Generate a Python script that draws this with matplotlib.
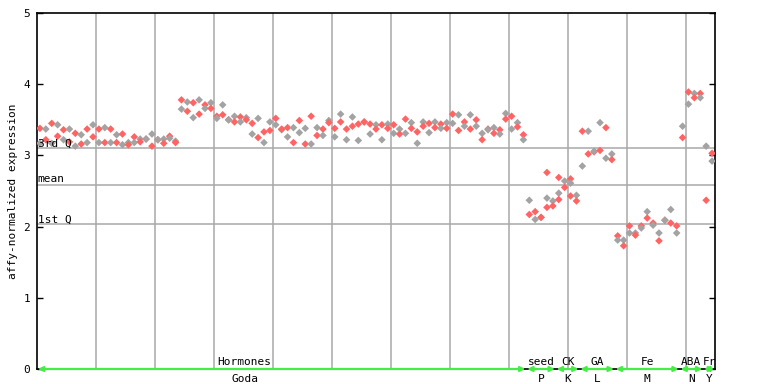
import numpy as np
import matplotlib
matplotlib.use("Agg")
import matplotlib.pyplot as plt

# expression values, one list per sample column
hormones = [
    [3.38, 3.17], [3.37, 3.22], [3.45, 3.17], [3.43, 3.27], [3.36, 3.22], [3.37, 3.19],
    [3.31, 3.13], [3.29, 3.16], [3.37, 3.18], [3.43, 3.26], [3.37, 3.18], [3.39, 3.18],
    [3.37, 3.18], [3.29, 3.18], [3.30, 3.15], [3.18, 3.15], [3.26, 3.18], [3.23, 3.19],
    [3.23, 3.23], [3.30, 3.13], [3.22, 3.22], [3.23, 3.17], [3.27, 3.24], [3.20, 3.18],
    [3.78, 3.65], [3.75, 3.62], [3.74, 3.53],
    [3.78, 3.58], [3.71, 3.66], [3.74, 3.66], [3.55, 3.52], [3.71, 3.57], [3.50, 3.50],
    [3.55, 3.47], [3.54, 3.47], [3.53, 3.50], [3.45, 3.30], [3.52, 3.25], [3.33, 3.18],
    [3.47, 3.35], [3.52, 3.43], [3.36, 3.37], [3.39, 3.26], [3.39, 3.18], [3.49, 3.32],
    [3.38, 3.16], [3.55, 3.16], [3.39, 3.28], [3.37, 3.28], [3.49, 3.46], [3.38, 3.26],
    [3.58, 3.47], [3.37, 3.22], [3.54, 3.41],
    [3.44, 3.21], [3.47, 3.47], [3.44, 3.30], [3.43, 3.37], [3.43, 3.22], [3.44, 3.38],
    [3.43, 3.31], [3.37, 3.30], [3.51, 3.31], [3.46, 3.38], [3.33, 3.17], [3.47, 3.41],
    [3.45, 3.32], [3.47, 3.39], [3.44, 3.38], [3.46, 3.38], [3.58, 3.45], [3.57, 3.35],
    [3.47, 3.41], [3.57, 3.37], [3.50, 3.41], [3.31, 3.22], [3.37, 3.36], [3.39, 3.31],
    [3.36, 3.30], [3.59, 3.51], [3.55, 3.37],
    [3.46, 3.40], [3.29, 3.22],
]
seed = [[2.37, 2.17], [2.21, 2.10], [2.13, 2.13], [2.76, 2.40, 2.27], [2.36, 2.29]]
ck = [[2.69, 2.47, 2.38], [2.64, 2.55], [2.67, 2.61, 2.43], [2.44, 2.36]]
ga = [[3.34, 2.85], [3.34, 3.02], [3.05, 3.06], [3.46, 3.07], [3.39, 2.96], [3.02, 2.94]]
fe = [[1.87, 1.81], [1.81, 1.73], [2.01, 1.91], [1.91, 1.88], [2.01, 1.98], [2.21, 2.12],
      [2.05, 2.02], [1.91, 1.80], [2.09, 2.09], [2.24, 2.05], [2.01, 1.91]]
aba = [[3.41, 3.25], [3.89, 3.72], [3.87, 3.81], [3.87, 3.81]]
fr = [[3.13, 2.37], [3.03, 2.92]]

groups = [hormones, seed, ck, ga, fe, aba, fr]
group_top = ["Hormones", "seed", "CK", "GA", "Fe", "ABA", "Fr"]
group_bottom = ["Goda", "P", "K", "L", "M", "N", "Y"]

q3, mean, q1 = 3.10, 2.58, 2.04

red = "#ff6464"
grey = "#a3a3a3"
green = "#44ee44"
font = "DejaVu Sans Mono"

columns = [c for g in groups for c in g]
n = len(columns)

fig = plt.figure(figsize=(7.68, 3.84), dpi=100)
ax = fig.add_axes([37 / 768, 15 / 384, 678 / 768, 356 / 384])

# vertical grid every 10 samples, horizontal lines at quartiles / mean
for gx in range(10, n, 10):
    ax.axvline(gx, color="#a8a8a8", lw=1.1, zorder=1)
for qv in [q3, mean, q1]:
    ax.axhline(qv, color="#a8a8a8", lw=1.1, zorder=1)

xs, ys, cs = [], [], []
for k, col in enumerate(columns):
    for j, v in enumerate(col):
        xs.append(k + 0.5)
        ys.append(v)
        cs.append(red if (k + j) % 2 == 0 else grey)
ax.scatter(xs, ys, c=cs, marker="D", s=15, linewidths=0, zorder=3)

ax.text(0.1, q3 + 0.025, "3rd Q", fontsize=8, family=font, va="baseline", zorder=4)
ax.text(0.1, mean + 0.04, "mean", fontsize=8, family=font, va="baseline", zorder=4)
ax.text(0.1, q1 + 0.02, "1st Q", fontsize=8, family=font, va="baseline", zorder=4)

# group arrows and labels along the bottom
start = 0
for g, top, bot in zip(groups, group_top, group_bottom):
    end = start + len(g)
    ax.annotate("", xy=(end - 0.15, 0), xytext=(start + 0.15, 0),
                arrowprops=dict(arrowstyle="<|-|>", color=green, lw=1.6,
                                mutation_scale=7, shrinkA=0, shrinkB=0),
                annotation_clip=False, zorder=5)
    cx = (start + end) / 2
    if top == "Hormones":
        cx = 35.2
    ax.text(cx, 0.025, top, fontsize=8, family=font, ha="center", va="bottom")
    ax.text(cx, -0.185, bot, fontsize=8, family=font, ha="center", va="baseline")
    start = end

ax.set_xlim(0, n)
ax.set_ylim(0, 5)
ax.set_xticks([])
ax.set_yticks(range(6))
ax.tick_params(axis="y", direction="in", length=4, width=1, pad=5,
               labelsize=8, right=True)
for lab in ax.get_yticklabels():
    lab.set_family(font)
for s in ax.spines.values():
    s.set_linewidth(1.2)
ax.set_ylabel("affy-normalized expression", fontsize=8, family=font, labelpad=4)

fig.savefig("out.png", dpi=100)
